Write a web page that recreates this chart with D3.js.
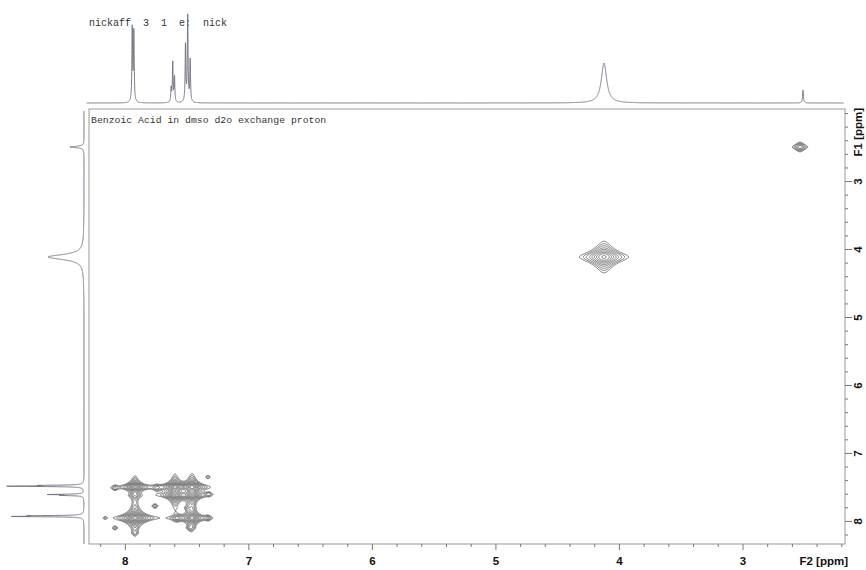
<!DOCTYPE html>
<html>
<head>
<meta charset="utf-8">
<script src="https://cdn.jsdelivr.net/npm/d3@7"></script>
<style>
  body { margin: 0; background: #fff; }
  .mono { font-family: "Liberation Mono", "DejaVu Sans Mono", monospace; fill: #333; white-space: pre; }
  .lab { font-family: "Liberation Sans", Arial, sans-serif; font-weight: bold; font-size: 11.5px; fill: #111; }
</style>
</head>
<body>
<div id="chart"></div>
<script>
// ---- texts ----
var headerText = "nickaff  3  1  e:  nick";
var sampleText = "Benzoic Acid in dmso d2o exchange proton";

// ---- axes (ppm) ----
var f2Domain = [8.29, 2.17];
var f1Domain = [1.94, 8.34];
var f2Labels = [8, 7, 6, 5, 4, 3];
var f1Labels = [3, 4, 5, 6, 7, 8];

// ---- 1D trace on top (F2): position, height, half width ----
var topPpm    = [7.940, 7.927, 7.625, 7.612, 7.598, 7.509, 7.491, 7.471, 4.121, 2.510];
var topHeight = [74,    70,    14,    40,    25,    57,    86,    42,    40,    13];
var topWidth  = [0.0035, 0.0035, 0.0035, 0.0035, 0.0035, 0.0035, 0.0035, 0.0035, 0.026, 0.004];

// ---- 1D projection on the left (F1) ----
var leftPpm    = [2.499, 4.118, 7.478, 7.490, 7.612, 7.625, 7.925, 7.935];
var leftHeight = [14,    36,    36,    72,    34,    20,    44,    64];
var leftWidth  = [0.012, 0.045, 0.005, 0.005, 0.005, 0.005, 0.005, 0.005];

// ---- 2D cross peaks: F2, F1, amplitude, half widths ----
var peakF2  = [7.918, 7.918, 7.594, 7.456, 7.594, 7.456, 7.456, 7.918, 7.578, 4.121, 2.534,
               8.080, 7.740, 7.327, 7.319, 7.756, 7.489, 7.327, 8.080, 7.472, 7.918, 8.160];
var peakF1  = [7.957, 7.500, 7.500, 7.500, 7.620, 7.620, 7.957, 7.630, 7.957, 4.118, 2.499,
               7.516, 7.516, 7.354, 7.605, 7.781, 7.810, 7.957, 8.104, 8.104, 8.178, 7.957];
var peakAmp = [3.2,   2.0,   2.2,   2.4,   2.0,   2.0,   1.8,   0.25,  0.3,   1.2,   0.42,
               0.2,   0.2,   0.17,  0.15,  0.2,   0.17,  0.2,   0.18,  0.2,   0.14,  0.12];
var peakW2  = [0.03,  0.026, 0.026, 0.026, 0.026, 0.026, 0.026, 0.026, 0.026, 0.06,  0.035,
               0.022, 0.022, 0.02,  0.02,  0.022, 0.02,  0.022, 0.022, 0.022, 0.02,  0.015];
var peakW1  = [0.04,  0.035, 0.035, 0.035, 0.035, 0.035, 0.04,  0.03,  0.03,  0.07,  0.04,
               0.03,  0.03,  0.025, 0.025, 0.03,  0.03,  0.03,  0.03,  0.03,  0.025, 0.02];

// contour levels
var levels = [0.1, 0.135, 0.18, 0.25, 0.33, 0.45, 0.6, 0.8, 1.1, 1.5, 2.0, 2.7];

var width = 866, height = 570;
var plot = { left: 89, right: 845, top: 109, bottom: 544 };

var svg = d3.select("#chart").append("svg")
  .attr("width", width)
  .attr("height", height);

var x = d3.scaleLinear().domain(f2Domain).range([plot.left, plot.right]);
var y = d3.scaleLinear().domain(f1Domain).range([plot.top, plot.bottom]);
var topY = d3.scaleLinear().domain([0, 100]).range([103, 3]);
var leftX = d3.scaleLinear().domain([0, 100]).range([84, -16]);

function lorentz(d, w) {
  var t = d / w;
  return 1 / (1 + t * t);
}

function trace(pos, hts, wds, from, to, step) {
  var pts = [];
  for (var p = from; p >= to; p -= step) {
    var v = 0;
    for (var k = 0; k < pos.length; k++) v += hts[k] * lorentz(p - pos[k], wds[k]);
    pts.push([p, v]);
  }
  return pts;
}

// header text
svg.append("text").attr("class", "mono")
  .attr("x", 89).attr("y", 26)
  .style("font-size", "10px")
  .text(headerText);

// top 1D spectrum
var topData = trace(topPpm, topHeight, topWidth, 8.31, 2.18, 0.0008);
svg.append("path")
  .datum(topData)
  .attr("fill", "none")
  .attr("stroke", "#6f6e80")
  .attr("stroke-width", 0.9)
  .attr("d", d3.line().x(d => x(d[0])).y(d => topY(d[1])));

// left 1D projection
var leftData = trace(leftPpm, leftHeight, leftWidth, 8.34, 1.97, 0.0008);
svg.append("path")
  .datum(leftData)
  .attr("fill", "none")
  .attr("stroke", "#6f6e80")
  .attr("stroke-width", 0.9)
  .attr("d", d3.line().x(d => leftX(d[1])).y(d => y(d[0])));

// frame
svg.append("rect")
  .attr("x", plot.left).attr("y", plot.top)
  .attr("width", plot.right - plot.left)
  .attr("height", plot.bottom - plot.top)
  .attr("fill", "none")
  .attr("stroke", "#999")
  .attr("stroke-width", 1);

svg.append("text").attr("class", "mono")
  .attr("x", 91).attr("y", 123)
  .style("font-size", "9.8px")
  .text(sampleText);

// ---- 2D contours ----
var res = 0.5;
var nx = Math.ceil((plot.right - plot.left) / res),
  ny = Math.ceil((plot.bottom - plot.top) / res);
var values = new Float64Array(nx * ny);
var gx = new Float64Array(nx), gy = new Float64Array(ny);

peakF2.forEach(function (f2, k) {
  var i, j;
  for (i = 0; i < nx; i++) gx[i] = lorentz(x.invert(plot.left + (i + 0.5) * res) - f2, peakW2[k]);
  for (j = 0; j < ny; j++) gy[j] = lorentz(y.invert(plot.top + (j + 0.5) * res) - peakF1[k], peakW1[k]);
  for (j = 0; j < ny; j++) {
    var a = peakAmp[k] * gy[j];
    if (a < 0.01) continue;
    var row = j * nx;
    for (i = 0; i < nx; i++) values[row + i] += a * gx[i];
  }
});

var contours = d3.contours()
  .size([nx, ny])
  .thresholds(levels)(values);

svg.append("g")
  .attr("transform", "translate(" + plot.left + "," + plot.top + ")")
  .selectAll("path")
  .data(contours)
  .join("path")
  .attr("fill", "none")
  .attr("stroke", "#2a2a2a")
  .attr("stroke-width", 0.6)
  .attr("d", d3.geoPath(d3.geoIdentity().scale(res)));

// ---- bottom axis (F2) ----
var f2Minor = x.ticks(30).filter(d => d3.min(f2Labels, t => Math.abs(t - d)) > 0.01);
var f1Minor = y.ticks(30).filter(d => d3.min(f1Labels, t => Math.abs(t - d)) > 0.01);

var xMinor = svg.append("g")
  .attr("transform", "translate(0," + plot.bottom + ")")
  .call(d3.axisBottom(x).tickValues(f2Minor).tickSize(3).tickFormat(""));
var xMajor = svg.append("g")
  .attr("transform", "translate(0," + plot.bottom + ")")
  .call(d3.axisBottom(x).tickValues(f2Labels).tickSize(6).tickFormat(d3.format("d")));

// ---- right axis (F1) ----
var yMinor = svg.append("g")
  .attr("transform", "translate(" + plot.right + ",0)")
  .call(d3.axisRight(y).tickValues(f1Minor).tickSize(3).tickFormat(""));
var yMajor = svg.append("g")
  .attr("transform", "translate(" + plot.right + ",0)")
  .call(d3.axisRight(y).tickValues(f1Labels).tickSize(7).tickFormat(d3.format("d")));

[xMinor, xMajor, yMinor, yMajor].forEach(function (g) {
  g.select(".domain").remove();
  g.selectAll(".tick line").attr("stroke", "#777");
});

xMajor.selectAll(".tick text")
  .attr("class", "lab")
  .attr("y", 21)
  .attr("dy", 0);

yMajor.selectAll(".tick text")
  .attr("class", "lab")
  .attr("x", 0)
  .attr("dy", 0)
  .attr("text-anchor", "middle")
  .attr("transform", "translate(17,0) rotate(-90)");

svg.append("text").attr("class", "lab")
  .attr("x", 848).attr("y", 565)
  .attr("text-anchor", "end")
  .text("F2 [ppm]");

svg.append("text").attr("class", "lab")
  .attr("text-anchor", "end")
  .attr("transform", "translate(862,108) rotate(-90)")
  .text("F1 [ppm]");
</script>
</body>
</html>
